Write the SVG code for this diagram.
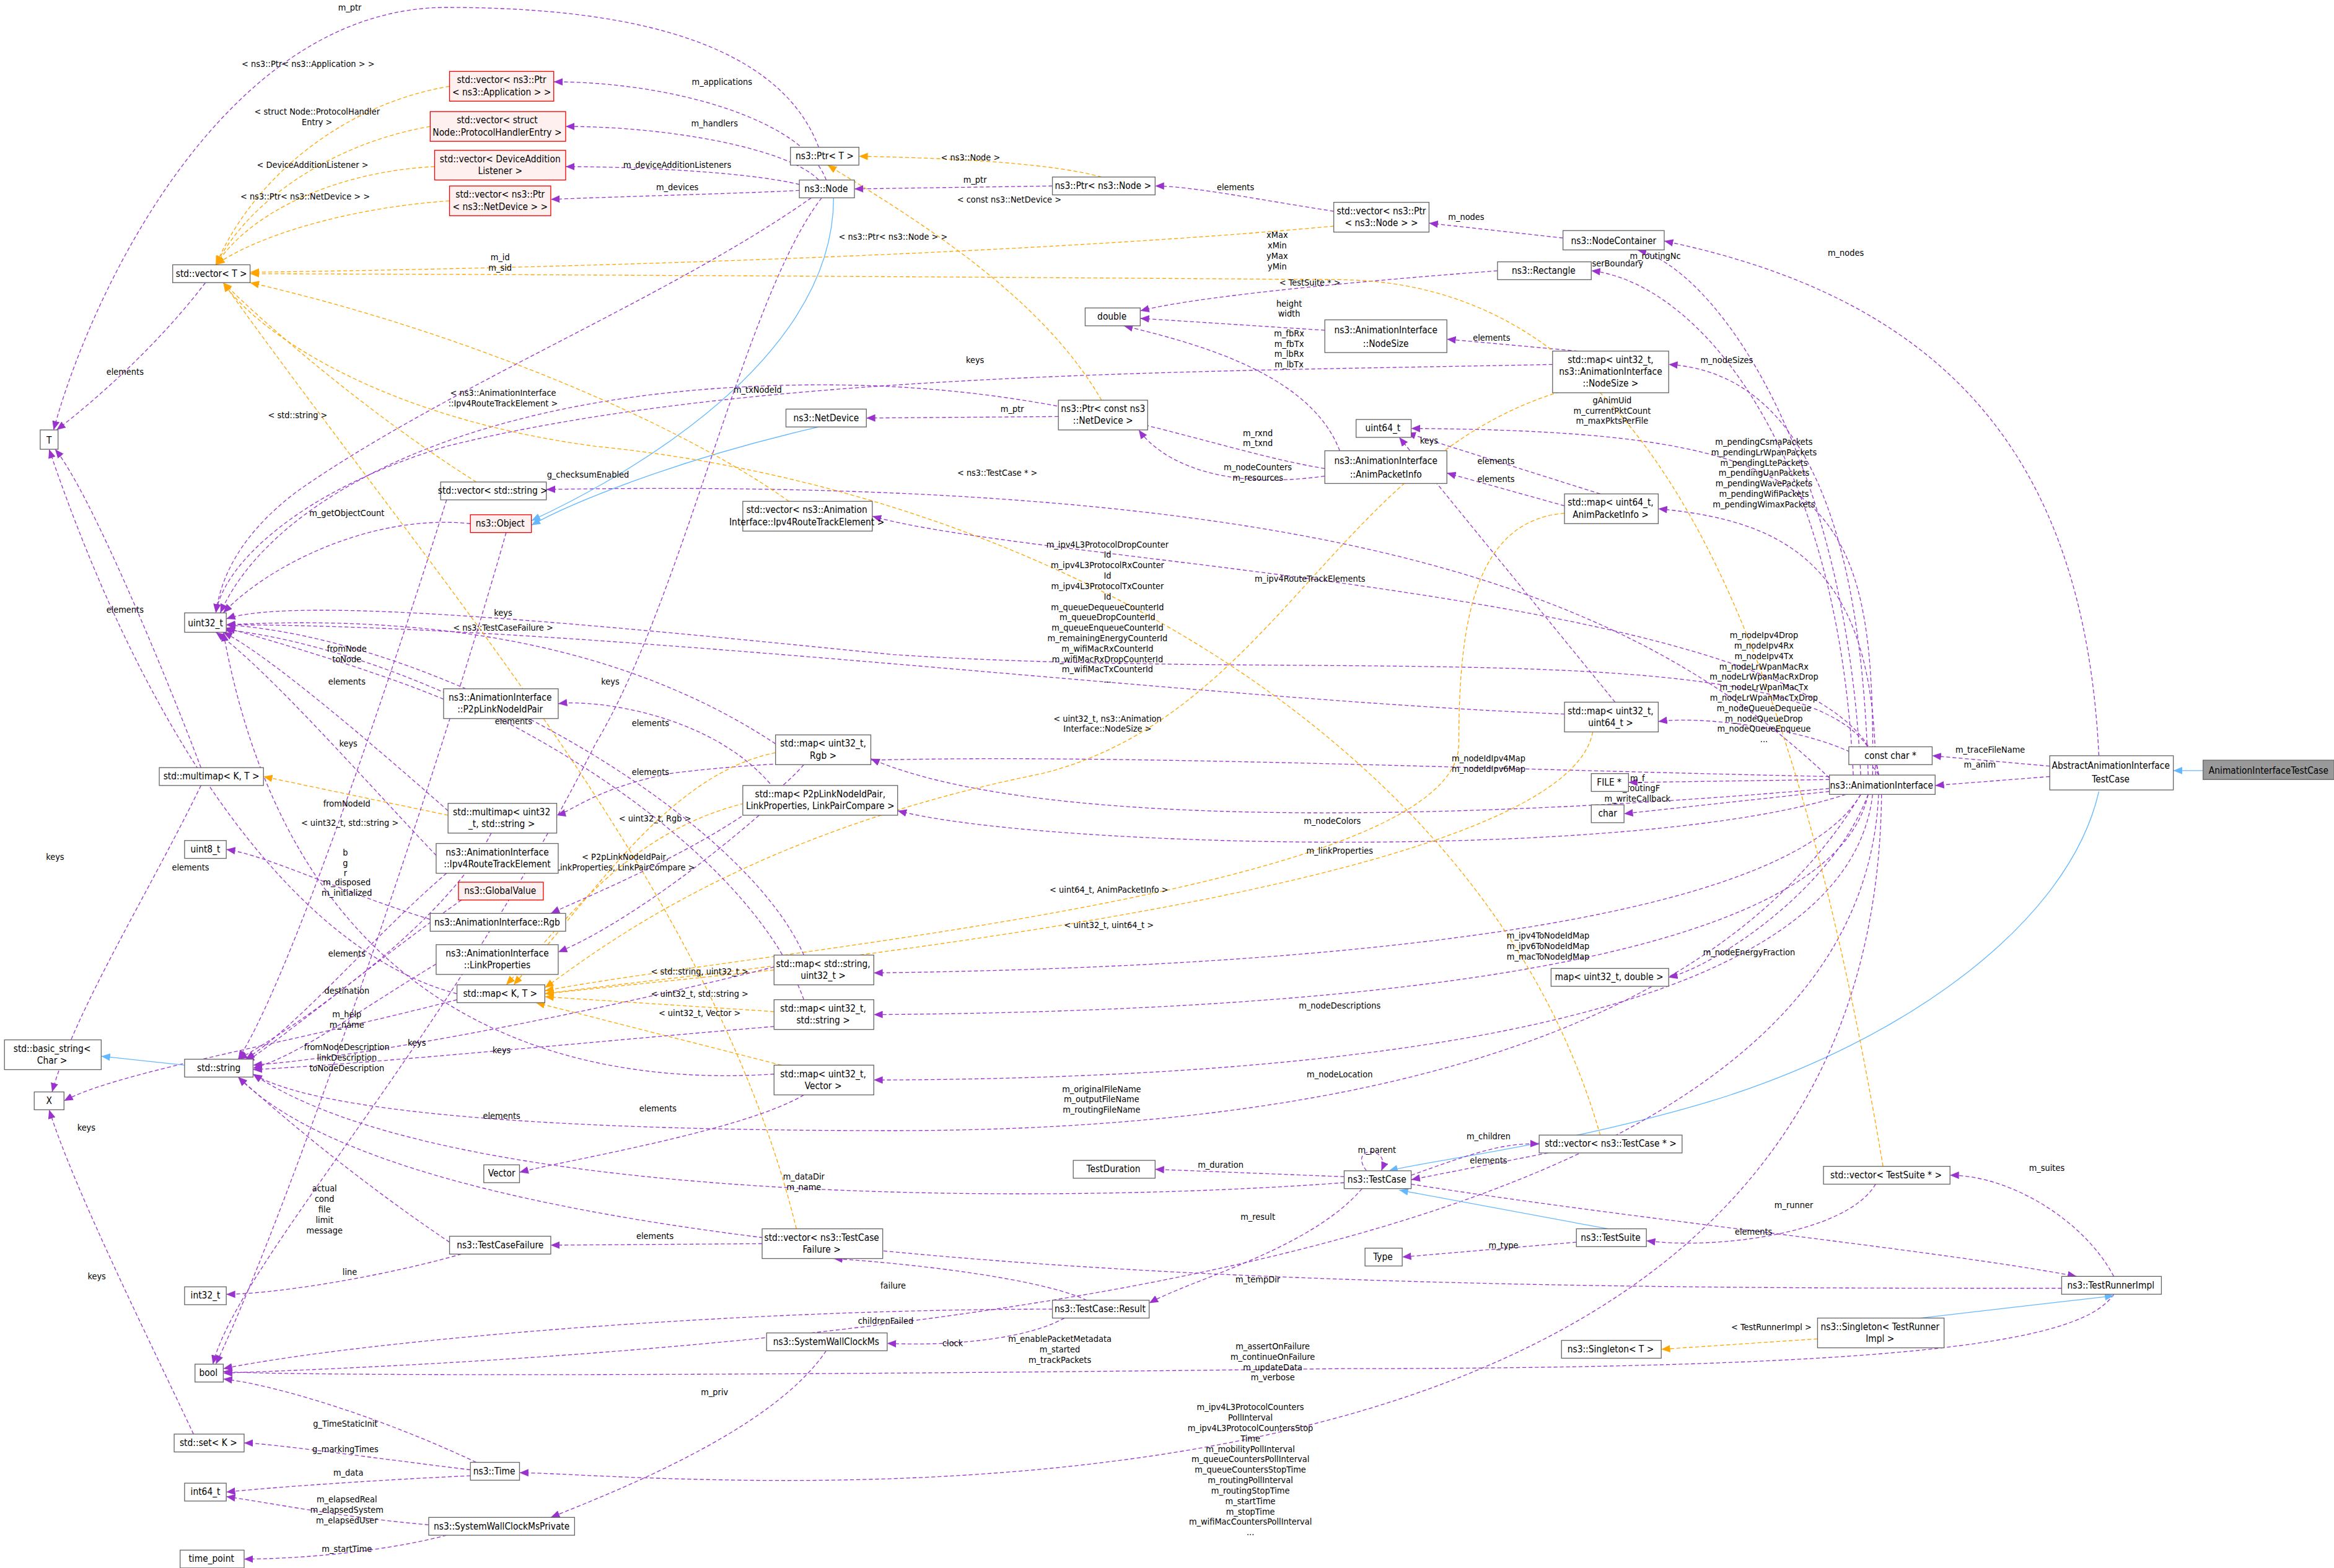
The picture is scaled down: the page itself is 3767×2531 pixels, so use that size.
<svg xmlns="http://www.w3.org/2000/svg" width="3767" height="2531" viewBox="0 0 3767 2531">
<style>
.n rect{fill:#fff;stroke:#666;stroke-width:0.55}
.n.r rect{fill:#fff0f0;stroke:#e00}
.n.g rect{fill:#999;stroke:#666}
.n text{font-family:"DejaVu Sans Condensed","Liberation Sans",sans-serif;font-size:6.4px;text-anchor:middle;fill:#000}
.e path{fill:none;stroke-width:0.55}
.p{stroke:#9a32cd;stroke-dasharray:2.6,1.6;marker-end:url(#ap)}
.o{stroke:#ffa500;stroke-dasharray:2.6,1.6;marker-end:url(#ao)}
.b{stroke:#63b8ff;marker-end:url(#ab)}
.l text{font-family:"DejaVu Sans Condensed","Liberation Sans",sans-serif;font-size:6px;text-anchor:middle;fill:#000}
</style>
<defs>
<marker id="ap" markerUnits="userSpaceOnUse" markerWidth="6" markerHeight="5" refX="6" refY="2.5" orient="auto"><path d="M0,0L6,2.5L0,5z" fill="#9a32cd"/></marker>
<marker id="ao" markerUnits="userSpaceOnUse" markerWidth="6" markerHeight="5" refX="6" refY="2.5" orient="auto"><path d="M0,0L6,2.5L0,5z" fill="#ffa500"/></marker>
<marker id="ab" markerUnits="userSpaceOnUse" markerWidth="6" markerHeight="5" refX="6" refY="2.5" orient="auto"><path d="M0,0L6,2.5L0,5z" fill="#63b8ff"/></marker>
</defs>
<rect width="3767" height="2531" fill="#fff"/>
<g transform="scale(2.4025,2.4013)">
<g class="e" id="connectors">
<path class="b" d="M1480,518L1460,518"/>
<path class="p" d="M1377,522L1300,528"/>
<path class="p" d="M1377,515L1298,508"/>
<path class="p" d="M1410,508C1400,300 1300,200 1118,162"/>
<path class="b" d="M1410,532C1390,620 1280,700 1150,740C1050,770 960,780 933,787"/>
<path class="p" d="M1250,521C1240,300 1150,180 1100,168"/>
<path class="p" d="M1245,521C1235,300 1140,190 1069,182"/>
<path class="p" d="M1255,521C1250,330 1200,250 1121,245"/>
<path class="p" d="M1258,521C1260,330 1230,290 948,288"/>
<path class="p" d="M1260,521C1260,380 1200,350 1114,342"/>
<path class="p" d="M1262,521C1250,495 1150,480 1114,485"/>
<path class="p" d="M1262,521C1250,420 900,460 600,440C400,420 200,400 152,416"/>
<path class="p" d="M1262,521C1250,400 700,380 586,347"/>
<path class="p" d="M1229,530C1000,550 700,560 585,510"/>
<path class="p" d="M1240,534C1100,580 700,570 603,545"/>
<path class="p" d="M1229,524L1094,526"/>
<path class="p" d="M1229,532L1091,547"/>
<path class="p" d="M1250,534C1150,700 900,760 600,760C300,760 200,740 170,722"/>
<path class="p" d="M1250,534C1200,620 900,650 587,654"/>
<path class="p" d="M1255,534C1230,600 1150,650 1121,657"/>
<path class="p" d="M1255,534C1230,650 900,680 587,682"/>
<path class="p" d="M1258,534C1240,690 900,725 587,726"/>
<path class="p" d="M1262,534C1250,800 800,900 150,923"/>
<path class="p" d="M1264,534C1260,900 900,1000 500,995C420,994 370,990 349,990"/>
<path class="p" d="M1229,522C900,515 600,500 450,520C400,530 385,545 374,548"/>
<path class="p" d="M1229,523C1100,400 900,320 367,329"/>
<path class="p" d="M1051,480C800,470 400,420 152,420"/>
<path class="p" d="M1085,472L940,294"/>
<path class="p" d="M1075,332L945,291"/>
<path class="p" d="M1051,340L972,318"/>
<path class="o" d="M1051,345C990,350 980,420 980,500C980,600 500,640 366,666"/>
<path class="o" d="M1070,492C1050,600 500,650 366,668"/>
<path class="o" d="M1060,260C900,300 860,480 700,520C500,560 400,640 366,664"/>
<path class="p" d="M1060,236L972,228"/>
<path class="p" d="M1043,245C800,250 500,250 300,300C200,330 150,380 145,412"/>
<path class="p" d="M890,222L766,214"/>
<path class="p" d="M1006,182C900,190 800,200 766,209"/>
<path class="p" d="M900,303C880,250 800,230 755,219"/>
<path class="p" d="M890,320C820,330 780,310 765,289"/>
<path class="p" d="M890,315C800,300 700,250 500,260C300,270 180,340 148,412"/>
<path class="p" d="M711,280L582,281"/>
<path class="o" d="M740,269C700,200 620,150 556,111"/>
<path class="o" d="M740,119C700,108 620,106 577,105"/>
<path class="p" d="M707,125L574,127"/>
<path class="p" d="M896,142C850,135 800,125 776,125"/>
<path class="p" d="M1050,160L960,150"/>
<path class="o" d="M896,152C700,170 400,180 168,183"/>
<path class="p" d="M550,99C520,20 400,5 300,5C150,5 60,200 36,289"/>
<path class="p" d="M555,121C540,80 450,55 372,55"/>
<path class="p" d="M550,121C530,100 450,85 380,85"/>
<path class="p" d="M537,124C500,115 420,112 380,112"/>
<path class="p" d="M537,128C500,130 420,132 370,134"/>
<path class="p" d="M545,133C450,200 300,260 200,330C160,360 148,390 145,412"/>
<path class="b" d="M560,133C560,250 400,330 357,350"/>
<path class="b" d="M550,287C450,310 380,340 357,353"/>
<path class="p" d="M552,133C500,200 460,400 400,500C300,700 160,850 143,917"/>
<path class="o" d="M302,58C230,70 170,120 145,178"/>
<path class="o" d="M289,85C230,95 170,130 145,178"/>
<path class="o" d="M292,112C230,115 170,140 145,178"/>
<path class="o" d="M302,135C230,140 170,160 145,178"/>
<path class="p" d="M138,190C100,240 50,280 38,289"/>
<path class="p" d="M135,516C110,450 60,330 37,302"/>
<path class="p" d="M135,528C100,600 50,680 35,734"/>
<path class="p" d="M130,964C100,900 50,800 33,746"/>
<path class="p" d="M307,668C200,640 100,500 33,302"/>
<path class="p" d="M307,672C200,700 80,720 43,740"/>
<path class="o" d="M301,548L177,522"/>
<path class="o" d="M320,324C250,280 180,220 150,190"/>
<path class="o" d="M530,337C450,280 300,220 168,190"/>
<path class="o" d="M1075,763C1000,500 700,330 400,300C250,280 170,220 150,190"/>
<path class="o" d="M1265,784C1200,400 1100,190 900,188C500,185 200,184 168,184"/>
<path class="o" d="M535,826C480,600 300,400 150,190"/>
<path class="o" d="M520,652L366,668"/>
<path class="o" d="M520,680L366,670"/>
<path class="o" d="M525,716L360,674"/>
<path class="o" d="M521,506C450,520 400,600 345,662"/>
<path class="o" d="M500,540C420,560 380,620 340,662"/>
<path class="p" d="M521,500C400,420 250,415 152,420"/>
<path class="p" d="M540,514C500,560 400,600 370,614"/>
<path class="p" d="M520,530C480,480 400,470 375,473"/>
<path class="p" d="M510,548C450,600 400,630 375,640"/>
<path class="p" d="M298,470C250,450 180,430 152,422"/>
<path class="p" d="M289,618C230,600 180,575 152,571"/>
<path class="p" d="M293,575C250,530 180,450 145,425"/>
<path class="p" d="M300,587C250,630 200,690 165,712"/>
<path class="p" d="M293,648C240,680 200,710 170,718"/>
<path class="p" d="M310,605C260,640 200,690 165,714"/>
<path class="p" d="M301,545C250,500 180,440 150,425"/>
<path class="p" d="M330,560C300,620 200,690 160,712"/>
<path class="b" d="M124,716L68,710"/>
<path class="p" d="M520,650C400,680 250,710 170,716"/>
<path class="p" d="M540,642C500,550 300,430 152,420"/>
<path class="p" d="M540,672C500,560 300,440 150,423"/>
<path class="p" d="M520,690C400,700 250,715 170,719"/>
<path class="p" d="M540,736C500,760 380,780 349,788"/>
<path class="p" d="M520,722C400,730 200,700 150,425"/>
<path class="p" d="M300,336C280,400 200,650 160,712"/>
<path class="p" d="M903,791L776,786"/>
<path class="p" d="M903,795C700,810 300,810 170,722"/>
<path class="p" d="M918,787C905,770 935,770 928,787"/>
<path class="p" d="M948,790C990,775 1010,768 1034,769"/>
<path class="p" d="M1040,775L948,793"/>
<path class="p" d="M915,799C880,840 800,860 772,876"/>
<path class="p" d="M948,796C1100,820 1300,840 1395,858"/>
<path class="b" d="M1080,826L940,800"/>
<path class="p" d="M1059,835L942,845"/>
<path class="p" d="M1260,796C1240,830 1150,840 1106,834"/>
<path class="p" d="M1420,858C1400,820 1350,790 1310,790"/>
<path class="p" d="M1385,866C1000,866 300,866 160,724"/>
<path class="p" d="M1420,870C1400,900 1300,920 900,920C500,925 200,925 150,922"/>
<path class="b" d="M1290,886L1420,871"/>
<path class="o" d="M1221,900L1116,907"/>
<path class="p" d="M730,874C700,860 620,850 560,846"/>
<path class="p" d="M707,880C500,880 250,900 150,920"/>
<path class="p" d="M715,886C690,900 640,905 596,903"/>
<path class="p" d="M512,836L370,837"/>
<path class="p" d="M302,835C250,800 200,760 160,724"/>
<path class="p" d="M310,843C250,860 180,870 152,870"/>
<path class="p" d="M555,908C520,960 420,1000 370,1020"/>
<path class="p" d="M320,983C250,950 180,930 150,927"/>
<path class="p" d="M316,988C250,980 180,970 164,970"/>
<path class="p" d="M316,992C250,995 180,1000 152,1003"/>
<path class="p" d="M288,1025C230,1020 180,1010 152,1006"/>
<path class="p" d="M300,1032C250,1045 190,1048 164,1048"/>
<path class="p" d="M316,352C250,345 180,380 150,412"/>
<path class="p" d="M340,358C300,500 200,800 145,917"/>
</g>
<g class="l" id="labels">
<text x="1330" y="516">m_anim</text>
<text x="1337" y="506">m_traceFileName</text>
<text x="1240" y="172">m_nodes</text>
<text x="1112" y="174">m_routingNc</text>
<text x="1085" y="179">userBoundary</text>
<text x="1160" y="244">m_nodeSizes</text>
<text x="1083" y="271">gAnimUid</text><text x="1083" y="278">m_currentPktCount</text><text x="1083" y="285">m_maxPktsPerFile</text>
<text x="1185" y="299">m_pendingCsmaPackets</text><text x="1185" y="306">m_pendingLrWpanPackets</text><text x="1185" y="313">m_pendingLtePackets</text><text x="1185" y="320">m_pendingUanPackets</text><text x="1185" y="327">m_pendingWavePackets</text><text x="1185" y="334">m_pendingWifiPackets</text><text x="1185" y="341">m_pendingWimaxPackets</text>
<text x="1185" y="429">m_nodeIpv4Drop</text><text x="1185" y="436">m_nodeIpv4Rx</text><text x="1185" y="443">m_nodeIpv4Tx</text><text x="1185" y="450">m_nodeLrWpanMacRx</text><text x="1185" y="457">m_nodeLrWpanMacRxDrop</text><text x="1185" y="464">m_nodeLrWpanMacTx</text><text x="1185" y="471">m_nodeLrWpanMacTxDrop</text><text x="1185" y="478">m_nodeQueueDequeue</text><text x="1185" y="485">m_nodeQueueDrop</text><text x="1185" y="492">m_nodeQueueEnqueue</text><text x="1185" y="499">...</text>
<text x="744" y="368">m_ipv4L3ProtocolDropCounter</text><text x="744" y="375">Id</text><text x="744" y="382">m_ipv4L3ProtocolRxCounter</text><text x="744" y="389">Id</text><text x="744" y="396">m_ipv4L3ProtocolTxCounter</text><text x="744" y="403">Id</text><text x="744" y="410">m_queueDequeueCounterId</text><text x="744" y="417">m_queueDropCounterId</text><text x="744" y="424">m_queueEnqueueCounterId</text><text x="744" y="431">m_remainingEnergyCounterId</text><text x="744" y="438">m_wifiMacRxCounterId</text><text x="744" y="445">m_wifiMacRxDropCounterId</text><text x="744" y="452">m_wifiMacTxCounterId</text><text x="744" y="459">...</text>
<text x="744" y="485">&lt; uint32_t, ns3::Animation</text><text x="744" y="492">Interface::NodeSize &gt;</text>
<text x="880" y="391">m_ipv4RouteTrackElements</text>
<text x="845" y="293">m_rxnd</text><text x="845" y="300">m_txnd</text>
<text x="845" y="316">m_nodeCounters</text><text x="845" y="323">m_resources</text>
<text x="1005" y="312">elements</text>
<text x="1005" y="324">elements</text>
<text x="960" y="298">keys</text>
<text x="1002" y="229">elements</text>
<text x="866" y="206">height</text><text x="866" y="213">width</text>
<text x="858" y="160">xMax</text><text x="858" y="167">xMin</text><text x="858" y="174">yMax</text><text x="858" y="181">yMin</text>
<text x="866" y="226">m_fbRx</text><text x="866" y="233">m_fbTx</text><text x="866" y="240">m_lbRx</text><text x="866" y="247">m_lbTx</text>
<text x="655" y="244">keys</text>
<text x="509" y="264">m_txNodeId</text>
<text x="680" y="277">m_ptr</text>
<text x="678" y="136">&lt; const ns3::NetDevice &gt;</text>
<text x="652" y="108">&lt; ns3::Node &gt;</text>
<text x="655" y="123">m_ptr</text>
<text x="830" y="128">elements</text>
<text x="985" y="148">m_nodes</text>
<text x="600" y="161">&lt; ns3::Ptr&lt; ns3::Node &gt; &gt;</text>
<text x="880" y="192">&lt; TestSuite * &gt;</text>
<text x="235" y="7">m_ptr</text>
<text x="485" y="57">m_applications</text>
<text x="480" y="85">m_handlers</text>
<text x="455" y="113">m_deviceAdditionListeners</text>
<text x="455" y="128">m_devices</text>
<text x="207" y="45">&lt; ns3::Ptr&lt; ns3::Application &gt; &gt;</text>
<text x="213" y="77">&lt; struct Node::ProtocolHandler</text><text x="213" y="84">Entry &gt;</text>
<text x="210" y="113">&lt; DeviceAdditionListener &gt;</text>
<text x="205" y="134">&lt; ns3::Ptr&lt; ns3::NetDevice &gt; &gt;</text>
<text x="336" y="175">m_id</text><text x="336" y="182">m_sid</text>
<text x="84" y="252">elements</text>
<text x="84" y="412">elements</text>
<text x="37" y="578">keys</text>
<text x="65" y="860">keys</text>
<text x="128" y="585">elements</text>
<text x="58" y="760">keys</text>
<text x="200" y="281">&lt; std::string &gt;</text>
<text x="338" y="266">&lt; ns3::AnimationInterface</text><text x="338" y="273">::Ipv4RouteTrackElement &gt;</text>
<text x="670" y="320">&lt; ns3::TestCase * &gt;</text>
<text x="338" y="424">&lt; ns3::TestCaseFailure &gt;</text>
<text x="338" y="414">keys</text>
<text x="395" y="321">g_checksumEnabled</text>
<text x="233" y="347">m_getObjectCount</text>
<text x="233" y="438">fromNode</text><text x="233" y="445">toNode</text>
<text x="233" y="460">elements</text>
<text x="234" y="502">keys</text>
<text x="233" y="542">fromNodeId</text>
<text x="235" y="555">&lt; uint32_t, std::string &gt;</text>
<text x="232" y="575">b</text><text x="232" y="582">g</text><text x="232" y="589">r</text>
<text x="233" y="595">m_disposed</text><text x="233" y="602">m_initialized</text>
<text x="233" y="643">elements</text>
<text x="233" y="668">destination</text>
<text x="233" y="684">m_help</text><text x="233" y="691">m_name</text>
<text x="233" y="706">fromNodeDescription</text><text x="233" y="713">linkDescription</text><text x="233" y="720">toNodeDescription</text>
<text x="280" y="703">keys</text>
<text x="410" y="460">keys</text>
<text x="437" y="488">elements</text>
<text x="437" y="521">elements</text>
<text x="345" y="487">elements</text>
<text x="440" y="552">&lt; uint32_t, Rgb &gt;</text>
<text x="420" y="578">&lt; P2pLinkNodeIdPair,</text><text x="420" y="585">LinkProperties, LinkPairCompare &gt;</text>
<text x="470" y="655">&lt; std::string, uint32_t &gt;</text>
<text x="470" y="670">&lt; uint32_t, std::string &gt;</text>
<text x="470" y="683">&lt; uint32_t, Vector &gt;</text>
<text x="442" y="747">elements</text>
<text x="337" y="752">elements</text>
<text x="337" y="708">keys</text>
<text x="1000" y="512">m_nodeIdIpv4Map</text><text x="1000" y="519">m_nodeIdIpv6Map</text>
<text x="1100" y="525">m_f</text><text x="1100" y="532">m_routingF</text>
<text x="1100" y="539">m_writeCallback</text>
<text x="895" y="554">m_nodeColors</text>
<text x="900" y="574">m_linkProperties</text>
<text x="745" y="600">&lt; uint64_t, AnimPacketInfo &gt;</text>
<text x="745" y="624">&lt; uint32_t, uint64_t &gt;</text>
<text x="1040" y="631">m_ipv4ToNodeIdMap</text><text x="1040" y="638">m_ipv6ToNodeIdMap</text><text x="1040" y="645">m_macToNodeIdMap</text>
<text x="1175" y="642">m_nodeEnergyFraction</text>
<text x="900" y="678">m_nodeDescriptions</text>
<text x="900" y="724">m_nodeLocation</text>
<text x="740" y="734">m_originalFileName</text><text x="740" y="741">m_outputFileName</text><text x="740" y="748">m_routingFileName</text>
<text x="820" y="785">m_duration</text>
<text x="540" y="793">m_dataDir</text><text x="540" y="800">m_name</text>
<text x="925" y="775">m_parent</text>
<text x="1000" y="766">m_children</text>
<text x="1000" y="782">elements</text>
<text x="845" y="820">m_result</text>
<text x="1205" y="812">m_runner</text>
<text x="1010" y="839">m_type</text>
<text x="1178" y="830">elements</text>
<text x="1375" y="787">m_suites</text>
<text x="845" y="862">m_tempDir</text>
<text x="855" y="907">m_assertOnFailure</text><text x="855" y="914">m_continueOnFailure</text><text x="855" y="921">m_updateData</text><text x="855" y="928">m_verbose</text>
<text x="1190" y="894">&lt; TestRunnerImpl &gt;</text>
<text x="600" y="866">failure</text>
<text x="595" y="890">childrenFailed</text>
<text x="640" y="905">clock</text>
<text x="440" y="833">elements</text>
<text x="218" y="801">actual</text><text x="218" y="808">cond</text><text x="218" y="815">file</text><text x="218" y="822">limit</text><text x="218" y="829">message</text>
<text x="235" y="857">line</text>
<text x="480" y="938">m_priv</text>
<text x="232" y="959">g_TimeStaticInit</text>
<text x="232" y="976">g_markingTimes</text>
<text x="234" y="992">m_data</text>
<text x="233" y="1010">m_elapsedReal</text><text x="233" y="1017">m_elapsedSystem</text><text x="233" y="1024">m_elapsedUser</text>
<text x="233" y="1043">m_startTime</text>
<text x="712" y="902">m_enablePacketMetadata</text><text x="712" y="909">m_started</text><text x="712" y="916">m_trackPackets</text>
<text x="840" y="948">m_ipv4L3ProtocolCounters</text><text x="840" y="955">PollInterval</text><text x="840" y="962">m_ipv4L3ProtocolCountersStop</text><text x="840" y="969">Time</text><text x="840" y="976">m_mobilityPollInterval</text><text x="840" y="983">m_queueCountersPollInterval</text><text x="840" y="990">m_queueCountersStopTime</text><text x="840" y="997">m_routingPollInterval</text><text x="840" y="1004">m_routingStopTime</text><text x="840" y="1011">m_startTime</text><text x="840" y="1018">m_stopTime</text><text x="840" y="1025">m_wifiMacCountersPollInterval</text><text x="840" y="1032">...</text>
</g>
<g id="n1" class="n g"><rect x="1480" y="511" width="88" height="13"/><text x="1524" y="520">AnimationInterfaceTestCase</text></g>
<g id="n2" class="n"><rect x="1377" y="508" width="83" height="23"/><text x="1418" y="517">AbstractAnimationInterface</text><text x="1418" y="526">TestCase</text></g>
<g id="n3" class="n"><rect x="1242" y="502" width="56" height="12"/><text x="1270" y="510">const char *</text></g>
<g id="n4" class="n"><rect x="1229" y="521" width="71" height="13"/><text x="1264" y="530">ns3::AnimationInterface</text></g>
<g id="n5" class="n"><rect x="1069" y="520" width="25" height="12"/><text x="1081" y="528">FILE *</text></g>
<g id="n6" class="n"><rect x="1069" y="541" width="22" height="12"/><text x="1080" y="549">char</text></g>
<g id="n7" class="n"><rect x="1042" y="651" width="79" height="12"/><text x="1081" y="659">map&lt; uint32_t, double &gt;</text></g>
<g id="n8" class="n"><rect x="1050" y="155" width="68" height="13"/><text x="1084" y="164">ns3::NodeContainer</text></g>
<g id="n9" class="n"><rect x="1006" y="176" width="63" height="12"/><text x="1037" y="184">ns3::Rectangle</text></g>
<g id="n10" class="n"><rect x="729" y="207" width="37" height="12"/><text x="747" y="215">double</text></g>
<g id="n11" class="n"><rect x="890" y="215" width="82" height="22"/><text x="931" y="224">ns3::AnimationInterface</text><text x="931" y="233">::NodeSize</text></g>
<g id="n12" class="n"><rect x="1043" y="236" width="78" height="28"/><text x="1082" y="244">std::map&lt; uint32_t,</text><text x="1082" y="252">ns3::AnimationInterface</text><text x="1082" y="260">::NodeSize &gt;</text></g>
<g id="n13" class="n"><rect x="911" y="282" width="37" height="12"/><text x="929" y="290">uint64_t</text></g>
<g id="n14" class="n"><rect x="890" y="303" width="82" height="22"/><text x="931" y="312">ns3::AnimationInterface</text><text x="931" y="321">::AnimPacketInfo</text></g>
<g id="n15" class="n"><rect x="1051" y="332" width="63" height="20"/><text x="1082" y="340">std::map&lt; uint64_t,</text><text x="1082" y="348">AnimPacketInfo &gt;</text></g>
<g id="n16" class="n"><rect x="1051" y="472" width="63" height="20"/><text x="1082" y="480">std::map&lt; uint32_t,</text><text x="1082" y="488">uint64_t &gt;</text></g>
<g id="n17" class="n"><rect x="896" y="136" width="64" height="20"/><text x="928" y="144">std::vector&lt; ns3::Ptr</text><text x="928" y="152">&lt; ns3::Node &gt; &gt;</text></g>
<g id="n18" class="n"><rect x="707" y="119" width="69" height="12"/><text x="741" y="127">ns3::Ptr&lt; ns3::Node &gt;</text></g>
<g id="n19" class="n"><rect x="531" y="99" width="46" height="12"/><text x="554" y="107">ns3::Ptr&lt; T &gt;</text></g>
<g id="n20" class="n"><rect x="537" y="121" width="37" height="12"/><text x="555" y="129">ns3::Node</text></g>
<g id="n21" class="n r"><rect x="302" y="48" width="70" height="20"/><text x="337" y="56">std::vector&lt; ns3::Ptr</text><text x="337" y="64">&lt; ns3::Application &gt; &gt;</text></g>
<g id="n22" class="n r"><rect x="289" y="75" width="91" height="20"/><text x="334" y="83">std::vector&lt; struct</text><text x="334" y="91">Node::ProtocolHandlerEntry &gt;</text></g>
<g id="n23" class="n r"><rect x="292" y="101" width="88" height="20"/><text x="336" y="109">std::vector&lt; DeviceAddition</text><text x="336" y="117">Listener &gt;</text></g>
<g id="n24" class="n r"><rect x="302" y="125" width="68" height="20"/><text x="336" y="133">std::vector&lt; ns3::Ptr</text><text x="336" y="141">&lt; ns3::NetDevice &gt; &gt;</text></g>
<g id="n25" class="n"><rect x="116" y="178" width="52" height="12"/><text x="142" y="186">std::vector&lt; T &gt;</text></g>
<g id="n26" class="n"><rect x="27" y="289" width="12" height="13"/><text x="33" y="298">T</text></g>
<g id="n27" class="n"><rect x="124" y="412" width="28" height="13"/><text x="138" y="421">uint32_t</text></g>
<g id="n28" class="n"><rect x="296" y="324" width="71" height="12"/><text x="331" y="332">std::vector&lt; std::string &gt;</text></g>
<g id="n29" class="n r"><rect x="316" y="346" width="41" height="12"/><text x="336" y="354">ns3::Object</text></g>
<g id="n30" class="n"><rect x="528" y="275" width="54" height="12"/><text x="555" y="283">ns3::NetDevice</text></g>
<g id="n31" class="n"><rect x="711" y="269" width="60" height="20"/><text x="741" y="277">ns3::Ptr&lt; const ns3</text><text x="741" y="285">::NetDevice &gt;</text></g>
<g id="n32" class="n"><rect x="499" y="337" width="87" height="20"/><text x="542" y="345">std::vector&lt; ns3::Animation</text><text x="542" y="353">Interface::Ipv4RouteTrackElement &gt;</text></g>
<g id="n33" class="n"><rect x="298" y="463" width="77" height="20"/><text x="336" y="471">ns3::AnimationInterface</text><text x="336" y="479">::P2pLinkNodeIdPair</text></g>
<g id="n34" class="n"><rect x="521" y="494" width="64" height="20"/><text x="553" y="502">std::map&lt; uint32_t,</text><text x="553" y="510">Rgb &gt;</text></g>
<g id="n35" class="n"><rect x="499" y="528" width="104" height="20"/><text x="551" y="536">std::map&lt; P2pLinkNodeIdPair,</text><text x="551" y="544">LinkProperties, LinkPairCompare &gt;</text></g>
<g id="n36" class="n"><rect x="107" y="516" width="70" height="12"/><text x="142" y="524">std::multimap&lt; K, T &gt;</text></g>
<g id="n37" class="n"><rect x="301" y="540" width="73" height="20"/><text x="337" y="548">std::multimap&lt; uint32</text><text x="337" y="556">_t, std::string &gt;</text></g>
<g id="n38" class="n"><rect x="124" y="565" width="28" height="12"/><text x="138" y="573">uint8_t</text></g>
<g id="n39" class="n"><rect x="293" y="567" width="82" height="20"/><text x="334" y="575">ns3::AnimationInterface</text><text x="334" y="583">::Ipv4RouteTrackElement</text></g>
<g id="n40" class="n r"><rect x="308" y="593" width="57" height="12"/><text x="336" y="601">ns3::GlobalValue</text></g>
<g id="n41" class="n"><rect x="289" y="614" width="91" height="12"/><text x="334" y="622">ns3::AnimationInterface::Rgb</text></g>
<g id="n42" class="n"><rect x="293" y="635" width="82" height="20"/><text x="334" y="643">ns3::AnimationInterface</text><text x="334" y="651">::LinkProperties</text></g>
<g id="n43" class="n"><rect x="307" y="662" width="59" height="12"/><text x="336" y="670">std::map&lt; K, T &gt;</text></g>
<g id="n44" class="n"><rect x="520" y="642" width="67" height="20"/><text x="553" y="650">std::map&lt; std::string,</text><text x="553" y="658">uint32_t &gt;</text></g>
<g id="n45" class="n"><rect x="520" y="672" width="67" height="20"/><text x="553" y="680">std::map&lt; uint32_t,</text><text x="553" y="688">std::string &gt;</text></g>
<g id="n46" class="n"><rect x="3" y="699" width="65" height="20"/><text x="35" y="707">std::basic_string&lt;</text><text x="35" y="715">Char &gt;</text></g>
<g id="n47" class="n"><rect x="124" y="712" width="46" height="12"/><text x="147" y="720">std::string</text></g>
<g id="n48" class="n"><rect x="520" y="716" width="67" height="20"/><text x="553" y="724">std::map&lt; uint32_t,</text><text x="553" y="732">Vector &gt;</text></g>
<g id="n49" class="n"><rect x="23" y="734" width="20" height="12"/><text x="33" y="742">X</text></g>
<g id="n50" class="n"><rect x="325" y="783" width="24" height="12"/><text x="337" y="791">Vector</text></g>
<g id="n51" class="n"><rect x="721" y="780" width="55" height="12"/><text x="748" y="788">TestDuration</text></g>
<g id="n52" class="n"><rect x="903" y="787" width="45" height="12"/><text x="925" y="795">ns3::TestCase</text></g>
<g id="n53" class="n"><rect x="1034" y="763" width="96" height="12"/><text x="1082" y="771">std::vector&lt; ns3::TestCase * &gt;</text></g>
<g id="n54" class="n"><rect x="1225" y="784" width="85" height="12"/><text x="1267" y="792">std::vector&lt; TestSuite * &gt;</text></g>
<g id="n55" class="n"><rect x="1059" y="826" width="47" height="12"/><text x="1082" y="834">ns3::TestSuite</text></g>
<g id="n56" class="n"><rect x="917" y="839" width="25" height="12"/><text x="929" y="847">Type</text></g>
<g id="n57" class="n"><rect x="302" y="831" width="68" height="12"/><text x="336" y="839">ns3::TestCaseFailure</text></g>
<g id="n58" class="n"><rect x="512" y="826" width="81" height="20"/><text x="552" y="834">std::vector&lt; ns3::TestCase</text><text x="552" y="842">Failure &gt;</text></g>
<g id="n59" class="n"><rect x="124" y="865" width="28" height="12"/><text x="138" y="873">int32_t</text></g>
<g id="n60" class="n"><rect x="707" y="874" width="65" height="12"/><text x="739" y="882">ns3::TestCase::Result</text></g>
<g id="n61" class="n"><rect x="1385" y="858" width="67" height="12"/><text x="1418" y="866">ns3::TestRunnerImpl</text></g>
<g id="n62" class="n"><rect x="131" y="917" width="19" height="12"/><text x="140" y="925">bool</text></g>
<g id="n63" class="n"><rect x="515" y="896" width="81" height="12"/><text x="555" y="904">ns3::SystemWallClockMs</text></g>
<g id="n64" class="n"><rect x="1221" y="886" width="85" height="20"/><text x="1263" y="894">ns3::Singleton&lt; TestRunner</text><text x="1263" y="902">Impl &gt;</text></g>
<g id="n65" class="n"><rect x="1049" y="901" width="67" height="12"/><text x="1082" y="909">ns3::Singleton&lt; T &gt;</text></g>
<g id="n66" class="n"><rect x="117" y="964" width="47" height="12"/><text x="140" y="972">std::set&lt; K &gt;</text></g>
<g id="n67" class="n"><rect x="316" y="983" width="33" height="12"/><text x="332" y="991">ns3::Time</text></g>
<g id="n68" class="n"><rect x="124" y="997" width="28" height="12"/><text x="138" y="1005">int64_t</text></g>
<g id="n69" class="n"><rect x="288" y="1020" width="98" height="12"/><text x="337" y="1028">ns3::SystemWallClockMsPrivate</text></g>
<g id="n70" class="n"><rect x="121" y="1042" width="43" height="12"/><text x="142" y="1050">time_point</text></g>
</g>
</svg>
